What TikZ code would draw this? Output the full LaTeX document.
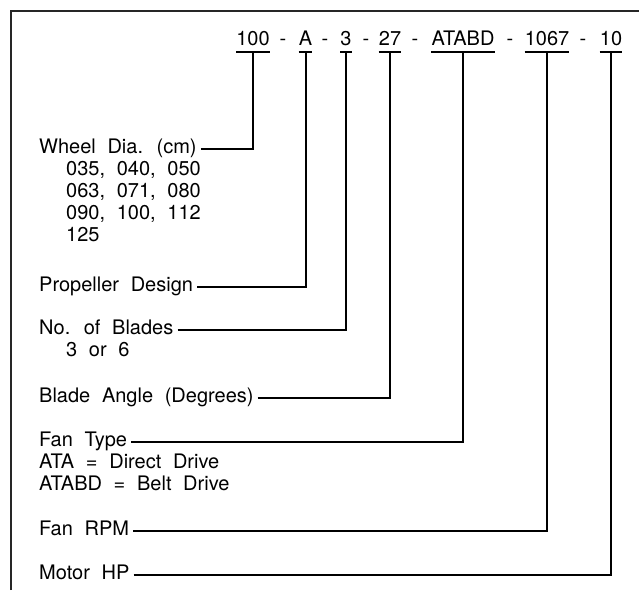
\documentclass[tikz,border=0pt]{standalone}
\usepackage{fontspec}
\setmainfont[WordSpace=2.1]{TeX Gyre Heros}
\usepackage{tikz}
\usetikzlibrary{positioning}
\tikzset{
  code/.style  ={anchor=base, inner xsep=0pt, inner ysep=7pt, text height=0.72em, text depth=0pt},
  hyph/.style  ={anchor=base, inner sep=0pt},
  lbl/.style   ={anchor=base west, inner sep=0pt, text height=0.72em, text depth=0pt},
  sub/.style   ={anchor=base west, inner sep=0pt},
  uline/.style ={line width=2pt},
  conn/.style  ={line width=2pt},
  frame/.style ={line width=1.4pt, black!85},
}

\begin{document}
\begin{tikzpicture}[x=1pt, y=-1pt, font=\fontsize{20}{22}\selectfont]
  \useasboundingbox (0,0) rectangle (639,590);
  \draw[frame] (11,590) -- (11,11) -- (639,11);

  % model number
  \node[code] (dia)   at (253,45)   {100};
  \node[hyph]         at (283,45)   {-};
  \node[code] (prop)  at (305.5,45) {A};
  \node[hyph]         at (325,45)   {-};
  \node[code] (blade) at (346,45)   {3};
  \node[hyph]         at (366,45)   {-};
  \node[code] (angle) at (390,45)   {27};
  \node[hyph]         at (415,45)   {-};
  \node[code] (type)  at (463,45)   {ATABD};
  \node[hyph]         at (510,45)   {-};
  \node[code] (rpm)   at (547,45)   {1067};
  \node[hyph]         at (583,45)   {-};
  \node[code] (hp)    at (611,45)   {10};
  \foreach \n in {dia,prop,blade,angle,type,rpm,hp}
    \draw[uline] (\n.south west) -- (\n.south east);

  % descriptions
  \node[lbl] (ldia)   at (39,153) {Wheel Dia. (cm)};
  \foreach \t [count=\i] in {{035, 040, 050},{063, 071, 080},{090, 100, 112},{125}}
    \node[sub] at (66,153+22*\i) {\t};
  \node[lbl] (lprop)  at (39,291) {Propeller Design};
  \node[lbl] (lblade) at (39,334) {No. of Blades};
  \node[sub]          at (66,356) {3 or 6};
  \node[lbl] (langle) at (39,402) {Blade Angle (Degrees)};
  \node[lbl] (ltype)  at (39,446) {Fan Type};
  \node[sub]          at (39,468) {ATA = Direct Drive};
  \node[sub]          at (39,490) {ATABD = Belt Drive};
  \node[lbl] (lrpm)   at (39,535) {Fan RPM};
  \node[lbl] (lhp)    at (39,579) {Motor HP};

  \draw[conn] ([xshift=4pt]ldia.east)   -| (dia.south);
  \draw[conn] ([xshift=4pt]lprop.east)  -| (prop.south);
  \draw[conn] ([xshift=4pt]lblade.east) -| (blade.south);
  \draw[conn] ([xshift=4pt]langle.east) -| (angle.south);
  \draw[conn] ([xshift=4pt]ltype.east)  -| (type.south);
  \draw[conn] ([xshift=4pt]lrpm.east)   -| (rpm.south);
  \draw[conn] ([xshift=4pt]lhp.east)    -| (hp.south);
\end{tikzpicture}
\end{document}
